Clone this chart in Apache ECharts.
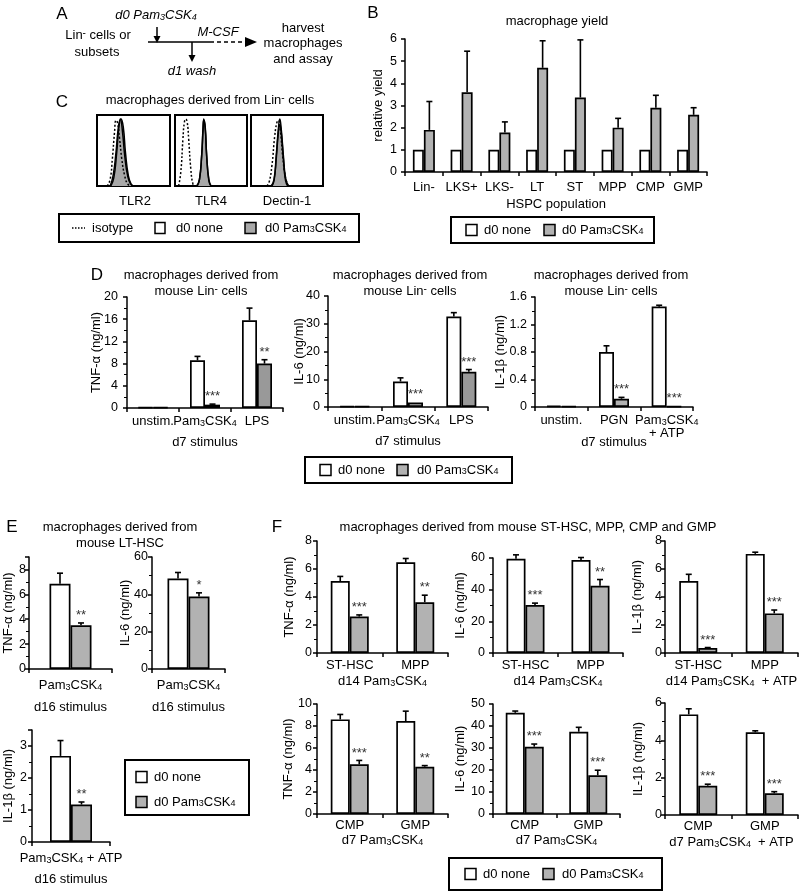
<!DOCTYPE html>
<html><head><meta charset="utf-8">
<script src="https://cdn.jsdelivr.net/npm/echarts@6/dist/echarts.min.js"></script>
<style>html,body{margin:0;padding:0;background:#fff}#c{width:800px;height:896px}</style>
</head><body><div id="c"></div>
<script>
// ---------------- DATA ----------------
// Panel B: macrophage yield
const B_CATS = ['Lin-', 'LKS+', 'LKS-', 'LT', 'ST', 'MPP', 'CMP', 'GMP'];
const B_NONE = [1, 1, 1, 1, 1, 1, 1, 1];
const B_PAM = [1.9, 3.6, 1.78, 4.7, 3.36, 2.0, 2.9, 2.58];
const B_PAM_SD = [1.28, 1.85, 0.48, 1.22, 2.6, 0.42, 0.56, 0.32];

// Panel C: flow histograms ([fluorescence position, count])
const C_TLR2_ISO = [[14,0],[18,10],[21,40],[24,80],[26,98],[28,95],[31,70],[34,40],[38,15],[42,3],[46,0]];
const C_TLR2_NONE = [[18,0],[22,15],[26,50],[29,85],[32,100],[35,80],[38,45],[42,15],[46,3],[50,0]];
const C_TLR2_PAM = [[19,0],[23,12],[27,50],[30,88],[33,100],[36,88],[39,50],[43,15],[47,2],[50,0]];
const C_TLR4_ISO = [[5,0],[8,20],[11,70],[13,95],[15,100],[17,95],[19,70],[22,25],[25,3],[28,0]];
const C_TLR4_NONE = [[30,0],[34,10],[37,45],[39,85],[40,100],[42,85],[44,45],[47,10],[50,0]];
const C_TLR4_PAM = [[31,0],[34,10],[37,45],[39,88],[40,98],[42,88],[44,45],[47,8],[50,0]];
const C_DEC_ISO = [[22,0],[25,5],[29,30],[33,75],[36,95],[38,98],[41,80],[44,45],[48,12],[52,0]];
const C_DEC_NONE = [[28,0],[32,10],[35,45],[38,85],[40,100],[42,85],[45,45],[48,12],[52,0]];
const C_DEC_PAM = [[29,0],[32,8],[35,40],[38,80],[40,92],[42,80],[45,40],[48,8],[51,0]];

// Panel D
const D_CATS_12 = ['unstim.', 'Pam3CSK4', 'LPS'];
const D_CATS_3 = ['unstim.', 'PGN', 'Pam3CSK4\n+ ATP'];
const D1_NONE = [0.1, 8.6, 15.8];
const D1_NONE_SD = [0, 0.7, 2.2];
const D1_PAM = [0.1, 0.6, 8.0];
const D1_PAM_SD = [0, 0.1, 0.7];
const D1_SIG = ['', '***', '**'];
const D2_NONE = [0.3, 9.2, 32.6];
const D2_NONE_SD = [0, 1.3, 1.4];
const D2_PAM = [0.2, 1.6, 12.7];
const D2_PAM_SD = [0, 0.1, 0.8];
const D2_SIG = ['', '***', '***'];
const D3_NONE = [0.02, 0.8, 1.46];
const D3_NONE_SD = [0, 0.09, 0.02];
const D3_PAM = [0.01, 0.12, 0.01];
const D3_PAM_SD = [0, 0.02, 0];
const D3_SIG = ['', '***', '***'];

// Panel E
const E_CATS_12 = ['Pam3CSK4'];
const E_CATS_3 = ['Pam3CSK4 + ATP'];
const E1_NONE = [6.85]; const E1_NONE_SD = [0.85]; const E1_PAM = [3.52]; const E1_PAM_SD = [0.18]; const E1_SIG = ['**'];
const E2_NONE = [48.5]; const E2_NONE_SD = [3.2]; const E2_PAM = [38.8]; const E2_PAM_SD = [2.0]; const E2_SIG = ['*'];
const E3_NONE = [2.69]; const E3_NONE_SD = [0.48]; const E3_PAM = [1.17]; const E3_PAM_SD = [0.08]; const E3_SIG = ['**'];

// Panel F
const F_CATS_TOP = ['ST-HSC', 'MPP'];
const F_CATS_BOT = ['CMP', 'GMP'];
const F1_NONE = [5.14, 6.48]; const F1_NONE_SD = [0.33, 0.27]; const F1_PAM = [2.6, 3.63]; const F1_PAM_SD = [0.12, 0.5]; const F1_SIG = ['***', '**'];
const F2_NONE = [59.5, 58.7]; const F2_NONE_SD = [2.5, 1.6]; const F2_PAM = [30.3, 42.4]; const F2_PAM_SD = [1.2, 4.0]; const F2_SIG = ['***', '**'];
const F3_NONE = [5.14, 7.08]; const F3_NONE_SD = [0.48, 0.12]; const F3_PAM = [0.35, 2.83]; const F3_PAM_SD = [0.04, 0.24]; const F3_SIG = ['***', '***'];
const F4_NONE = [8.6, 8.45]; const F4_NONE_SD = [0.45, 0.9]; const F4_PAM = [4.52, 4.3]; const F4_PAM_SD = [0.35, 0.1]; const F4_SIG = ['***', '**'];
const F5_NONE = [46.0, 37.4]; const F5_NONE_SD = [0.8, 2.0]; const F5_PAM = [30.6, 17.6]; const F5_PAM_SD = [1.2, 2.3]; const F5_SIG = ['***', '***'];
const F6_NONE = [5.39, 4.43]; const F6_NONE_SD = [0.3, 0.08]; const F6_PAM = [1.57, 1.16]; const F6_PAM_SD = [0.08, 0.09]; const F6_SIG = ['***', '***'];

// ---------------- STYLE / HELPERS ----------------
const FONT = '"Liberation Sans", Arial, Helvetica, sans-serif';
const GRAY = '#b2b2b2';
const DARK_GRAY = '#999999';
const RICH = {
  s: { fontSize: 9, lineHeight: 6, verticalAlign: 'bottom', fontFamily: FONT },
  p: { fontSize: 10, lineHeight: 6, verticalAlign: 'top', fontFamily: FONT },
  si: { fontSize: 9, lineHeight: 6, verticalAlign: 'bottom', fontFamily: FONT, fontStyle: 'italic' }
};
function rt(str, italic) {
  const k = italic ? 'si' : 's';
  return str.replace(/Pam3CSK4/g, 'Pam{' + k + '|3}CSK{' + k + '|4}').replace(/Lin\^-/g, 'Lin{p|-}');
}

const grids = [], xAxes = [], yAxes = [], series = [];
const AX = { color: '#000', width: 1.5 };

function errSeries(gi, vals, sds, sig, offset, cap) {
  return {
    type: 'custom', xAxisIndex: gi, yAxisIndex: gi, z: 5, silent: true, clip: false,
    data: vals.map((v, i) => [i, v, v + sds[i]]),
    renderItem: function (params, api) {
      const i = params.dataIndex;
      const base = api.coord([api.value(0), api.value(1)]);
      const top = api.coord([api.value(0), api.value(2)]);
      const x = base[0] + offset;
      const ch = [];
      if (top[1] < base[1] - 0.5) {
        ch.push({ type: 'line', shape: { x1: x, y1: base[1], x2: x, y2: top[1] }, style: { stroke: '#000', lineWidth: 1.6 } });
        ch.push({ type: 'line', shape: { x1: x - cap, y1: top[1], x2: x + cap, y2: top[1] }, style: { stroke: '#000', lineWidth: 1.6 } });
      }
      if (sig && sig[i]) {
        ch.push({ type: 'text', style: { text: sig[i], x: x, y: top[1] - 1, align: 'center', verticalAlign: 'bottom', fontSize: 13, fontFamily: FONT, fill: '#333' } });
      }
      return { type: 'group', children: ch };
    }
  };
}

function barChart(o) {
  const gi = grids.length;
  grids.push({ left: o.left, top: o.top, width: o.width, height: o.height, outerBoundsMode: 'none', containLabel: false });
  xAxes.push({
    type: 'category', gridIndex: gi, data: o.cats,
    axisLine: { lineStyle: AX }, axisTick: { show: true, length: 4, lineStyle: AX },
    axisLabel: { color: '#000', fontSize: 13, fontFamily: FONT, margin: o.labelMargin, interval: 0, formatter: v => rt(v), rich: RICH, lineHeight: 13 },
    name: o.xName ? rt(o.xName) : '', nameLocation: 'middle', nameGap: o.xNameGap, nameMoveOverlap: false,
    nameTextStyle: { color: '#000', fontSize: 13, fontFamily: FONT, rich: RICH }
  });
  yAxes.push({
    type: 'value', gridIndex: gi, min: 0, max: o.max, interval: o.interval,
    axisLine: { show: true, lineStyle: AX }, axisTick: { show: true, length: 4, lineStyle: AX },
    minorTick: { show: !!o.minor, splitNumber: 2, length: 3, lineStyle: { color: '#000', width: 1 } },
    splitLine: { show: false },
    axisLabel: { color: '#000', fontSize: 12.5, fontFamily: FONT, margin: o.yLabelMargin, showMaxLabel: o.showMax !== false },
    name: o.yName, nameLocation: 'middle', nameRotate: 90, nameGap: o.yNameGap, nameMoveOverlap: false,
    nameTextStyle: { color: '#000', fontSize: 13, fontFamily: FONT }
  });
  const pamData = o.pam.map((v, i) => (o.pamColors && o.pamColors[i]) ? { value: v, itemStyle: { color: o.pamColors[i] } } : v);
  series.push({ type: 'bar', name: 'd0 none', xAxisIndex: gi, yAxisIndex: gi, data: o.none, barWidth: o.bw, barGap: '0%', silent: true,
    itemStyle: { color: '#fff', borderColor: '#000', borderWidth: 1.7 } });
  series.push({ type: 'bar', name: 'd0 Pam3CSK4', xAxisIndex: gi, yAxisIndex: gi, data: pamData, barWidth: o.bw, barGap: '0%', silent: true,
    itemStyle: { color: GRAY, borderColor: '#000', borderWidth: 1.7 } });
  if (o.noneSd) series.push(errSeries(gi, o.none, o.noneSd, null, -o.bw / 2, o.cap || 3));
  if (o.pamSd) series.push(errSeries(gi, o.pam, o.pamSd, o.sig, o.bw / 2, o.cap || 3));
}

function histChart(o) {
  const gi = grids.length;
  grids.push({ left: o.left, top: o.top, width: o.width, height: o.height, show: true, borderColor: '#000', borderWidth: 2, backgroundColor: '#fff', outerBoundsMode: 'none' });
  xAxes.push({ type: 'value', gridIndex: gi, min: 0, max: 100, show: false, splitLine: { show: false } });
  yAxes.push({ type: 'value', gridIndex: gi, min: 0, max: 106, show: false, splitLine: { show: false } });
  series.push({ type: 'line', xAxisIndex: gi, yAxisIndex: gi, data: o.pam, smooth: 0.5, symbol: 'none', silent: true,
    lineStyle: { color: '#000', width: 1.5 }, areaStyle: { color: '#a8a8a8', opacity: 1 } });
  series.push({ type: 'line', xAxisIndex: gi, yAxisIndex: gi, data: o.none, smooth: 0.5, symbol: 'none', silent: true,
    lineStyle: { color: '#000', width: 1.5 } });
  series.push({ type: 'line', xAxisIndex: gi, yAxisIndex: gi, data: o.iso, smooth: 0.5, symbol: 'none', silent: true,
    lineStyle: { color: '#000', width: 1.5, type: [2, 2] } });
}

// ---------------- CHARTS ----------------
barChart({ left: 405, top: 39, width: 302, height: 133, cats: B_CATS, none: B_NONE, pam: B_PAM, pamSd: B_PAM_SD, sig: null,
  max: 6, interval: 1, bw: 11, labelMargin: 9, yLabelMargin: 8, xName: 'HSPC population', xNameGap: 26, yName: 'relative yield', yNameGap: 20, cap: 3 });

histChart({ left: 97, top: 115, width: 73, height: 71, iso: C_TLR2_ISO, none: C_TLR2_NONE, pam: C_TLR2_PAM });
histChart({ left: 175, top: 115, width: 72, height: 71, iso: C_TLR4_ISO, none: C_TLR4_NONE, pam: C_TLR4_PAM });
histChart({ left: 251, top: 115, width: 72, height: 71, iso: C_DEC_ISO, none: C_DEC_NONE, pam: C_DEC_PAM });

barChart({ left: 127, top: 297, width: 156, height: 111, cats: D_CATS_12, none: D1_NONE, noneSd: D1_NONE_SD, pam: D1_PAM, pamSd: D1_PAM_SD, sig: D1_SIG,
  pamColors: [null, null, DARK_GRAY],
  max: 20, interval: 4, minor: true, bw: 15, labelMargin: 7, yLabelMargin: 9, xName: 'd7 stimulus', xNameGap: 28, yName: 'TNF-α (ng/ml)', yNameGap: 24 });
barChart({ left: 328, top: 296, width: 160, height: 111, cats: D_CATS_12, none: D2_NONE, noneSd: D2_NONE_SD, pam: D2_PAM, pamSd: D2_PAM_SD, sig: D2_SIG,
  pamColors: [null, null, DARK_GRAY],
  max: 40, interval: 10, minor: true, bw: 15, labelMargin: 7, yLabelMargin: 8, xName: 'd7 stimulus', xNameGap: 28, yName: 'IL-6 (ng/ml)', yNameGap: 22 });
barChart({ left: 535, top: 297, width: 158, height: 110, cats: D_CATS_3, none: D3_NONE, noneSd: D3_NONE_SD, pam: D3_PAM, pamSd: D3_PAM_SD, sig: D3_SIG,
  max: 1.6, interval: 0.4, minor: true, bw: 15, labelMargin: 7, yLabelMargin: 8, xName: 'd7 stimulus', xNameGap: 29, yName: 'IL-1β (ng/ml)', yNameGap: 28 });

barChart({ left: 29, top: 557, width: 83, height: 112, cats: E_CATS_12, none: E1_NONE, noneSd: E1_NONE_SD, pam: E1_PAM, pamSd: E1_PAM_SD, sig: E1_SIG,
  max: 9, interval: 2, minor: true, showMax: false, bw: 21, labelMargin: 10, yLabelMargin: 3, xName: 'd16 stimulus', xNameGap: 32, yName: 'TNF-α (ng/ml)', yNameGap: 14 });
barChart({ left: 152, top: 557, width: 73, height: 112, cats: E_CATS_12, none: E2_NONE, noneSd: E2_NONE_SD, pam: E2_PAM, pamSd: E2_PAM_SD, sig: E2_SIG,
  max: 60, interval: 20, minor: true, bw: 21, labelMargin: 10, yLabelMargin: 4, xName: 'd16 stimulus', xNameGap: 32, yName: 'IL-6 (ng/ml)', yNameGap: 20 });
barChart({ left: 32, top: 730, width: 78, height: 112, cats: E_CATS_3, none: E3_NONE, noneSd: E3_NONE_SD, pam: E3_PAM, pamSd: E3_PAM_SD, sig: E3_SIG,
  max: 3.5, interval: 1, minor: true, showMax: false, bw: 21, labelMargin: 10, yLabelMargin: 5, xName: 'd16 stimulus', xNameGap: 31, yName: 'IL-1β (ng/ml)', yNameGap: 17 });

barChart({ left: 317, top: 541, width: 131, height: 112, cats: F_CATS_TOP, none: F1_NONE, noneSd: F1_NONE_SD, pam: F1_PAM, pamSd: F1_PAM_SD, sig: F1_SIG,
  max: 8, interval: 2, minor: true, bw: 19, labelMargin: 6, yLabelMargin: 5, xName: 'd14 Pam3CSK4', xNameGap: 22, yName: 'TNF-α (ng/ml)', yNameGap: 21 });
barChart({ left: 493, top: 558, width: 130, height: 95, cats: F_CATS_TOP, none: F2_NONE, noneSd: F2_NONE_SD, pam: F2_PAM, pamSd: F2_PAM_SD, sig: F2_SIG,
  max: 60, interval: 20, minor: true, bw: 19, labelMargin: 6, yLabelMargin: 8, xName: 'd14 Pam3CSK4', xNameGap: 22, yName: 'IL-6 (ng/ml)', yNameGap: 26 });
barChart({ left: 665, top: 541, width: 133, height: 112, cats: F_CATS_TOP, none: F3_NONE, noneSd: F3_NONE_SD, pam: F3_PAM, pamSd: F3_PAM_SD, sig: F3_SIG,
  max: 8, interval: 2, minor: true, bw: 19, labelMargin: 6, yLabelMargin: 3, xName: 'd14 Pam3CSK4  + ATP', xNameGap: 22, yName: 'IL-1β (ng/ml)', yNameGap: 21 });
barChart({ left: 317, top: 704, width: 131, height: 110, cats: F_CATS_BOT, none: F4_NONE, noneSd: F4_NONE_SD, pam: F4_PAM, pamSd: F4_PAM_SD, sig: F4_SIG,
  max: 10, interval: 2, minor: true, bw: 19, labelMargin: 5, yLabelMargin: 5, xName: 'd7 Pam3CSK4', xNameGap: 20, yName: 'TNF-α (ng/ml)', yNameGap: 22 });
barChart({ left: 493, top: 704, width: 127, height: 110, cats: F_CATS_BOT, none: F5_NONE, noneSd: F5_NONE_SD, pam: F5_PAM, pamSd: F5_PAM_SD, sig: F5_SIG,
  max: 50, interval: 10, minor: true, bw: 19, labelMargin: 5, yLabelMargin: 8, xName: 'd7 Pam3CSK4', xNameGap: 20, yName: 'IL-6 (ng/ml)', yNameGap: 26 });
barChart({ left: 665, top: 703, width: 133, height: 112, cats: F_CATS_BOT, none: F6_NONE, noneSd: F6_NONE_SD, pam: F6_PAM, pamSd: F6_PAM_SD, sig: F6_SIG,
  max: 6, interval: 2, minor: true, bw: 19, labelMargin: 5, yLabelMargin: 3, xName: 'd7 Pam3CSK4  + ATP', xNameGap: 21, yName: 'IL-1β (ng/ml)', yNameGap: 20 });

// ---------------- GRAPHICS (text, legends, schematic) ----------------
function T(x, y, text, opt) {
  opt = opt || {};
  return { type: 'text', x: x, y: y, silent: true, z: 10,
    style: { text: rt(text, opt.italic), rich: RICH, fontSize: opt.size || 13, fontFamily: FONT, fontStyle: opt.italic ? 'italic' : 'normal',
      fill: '#000', align: opt.align || 'center', verticalAlign: 'middle' } };
}
function L(x1, y1, x2, y2, dash) {
  return { type: 'line', silent: true, z: 10, shape: { x1, y1, x2, y2 }, style: { stroke: '#000', lineWidth: 1.5, lineDash: dash || null } };
}
function P(points) { return { type: 'polygon', silent: true, z: 10, shape: { points }, style: { fill: '#000' } }; }
function R(x, y, w, h, fill, lw) { return { type: 'rect', silent: true, z: 9, shape: { x, y, width: w, height: h }, style: { fill: fill, stroke: '#000', lineWidth: lw || 1.5 } }; }

const g = [];
// panel letters
g.push(T(62, 14, 'A', { size: 17 }), T(373, 13, 'B', { size: 17 }), T(62, 102, 'C', { size: 17 }),
  T(97, 275, 'D', { size: 17 }), T(12, 527, 'E', { size: 17 }), T(277, 527, 'F', { size: 17 }));
// panel A schematic
g.push(T(156, 15, 'd0 Pam3CSK4', { italic: true }), T(98, 35, 'Lin^- cells or'), T(97, 52, 'subsets'),
  T(218, 32, 'M-CSF', { italic: true }), T(192, 71, 'd1 wash', { italic: true }),
  T(303, 28, 'harvest'), T(303, 43, 'macrophages'), T(303, 59, 'and assay'));
g.push(L(148, 42, 210, 42), L(210, 42, 246, 42, [4, 3]), P([[245, 37], [257, 42], [245, 47]]),
  L(157, 27, 157, 38), P([[153.5, 36], [157, 43], [160.5, 36]]),
  L(192, 42, 192, 57), P([[188.5, 55], [192, 62], [195.5, 55]]));
// titles
g.push(T(557, 21, 'macrophage yield'), T(210, 100, 'macrophages derived from Lin^- cells'),
  T(201, 275, 'macrophages derived from'), T(201, 291, 'mouse Lin^- cells'),
  T(410, 275, 'macrophages derived from'), T(410, 291, 'mouse Lin^- cells'),
  T(611, 275, 'macrophages derived from'), T(611, 291, 'mouse Lin^- cells'),
  T(120, 527, 'macrophages derived from'), T(120, 543, 'mouse LT-HSC'),
  T(528, 527, 'macrophages derived from mouse ST-HSC, MPP, CMP and GMP'),
  T(135, 201, 'TLR2'), T(211, 201, 'TLR4'), T(287, 201, 'Dectin-1'));
// legend B
g.push(R(451, 217, 203, 26, '#fff', 2), R(466, 224.5, 11, 11, '#fff'), T(484, 230, 'd0 none', { align: 'left' }),
  R(544, 224.5, 11, 11, GRAY), T(562, 230, 'd0 Pam3CSK4', { align: 'left' }));
// legend C
g.push(R(59, 214, 300, 28, '#fff', 2), L(72, 228, 85, 228, [1.5, 1.5]), T(92, 228, 'isotype', { align: 'left' }),
  R(155, 222.5, 10, 11, '#fff'), T(176, 228, 'd0 none', { align: 'left' }),
  R(245, 222.5, 11, 11, '#a8a8a8'), T(265, 228, 'd0 Pam3CSK4', { align: 'left' }));
// legend D
g.push(R(305, 457, 207, 26, '#fff', 2), R(320, 464.5, 11, 11, '#fff'), T(338, 470, 'd0 none', { align: 'left' }),
  R(397, 464.5, 11, 11, GRAY), T(417, 470, 'd0 Pam3CSK4', { align: 'left' }));
// legend E
g.push(R(125, 760, 124, 55, '#fff', 2), R(136, 771.5, 11, 11, '#fff'), T(154, 777, 'd0 none', { align: 'left' }),
  R(136, 796.5, 11, 11, GRAY), T(154, 802, 'd0 Pam3CSK4', { align: 'left' }));
// legend F
g.push(R(449, 858, 213, 32, '#fff', 2), R(465, 868.5, 11, 11, '#fff'), T(483, 874, 'd0 none', { align: 'left' }),
  R(543, 868.5, 11, 11, GRAY), T(562, 874, 'd0 Pam3CSK4', { align: 'left' }));

const chart = echarts.init(document.getElementById('c'), null, { renderer: 'canvas' });
chart.setOption({
  animation: false,
  backgroundColor: '#fff',
  textStyle: { fontFamily: FONT },
  grid: grids, xAxis: xAxes, yAxis: yAxes, series: series,
  graphic: { elements: g }
});
</script></body></html>
